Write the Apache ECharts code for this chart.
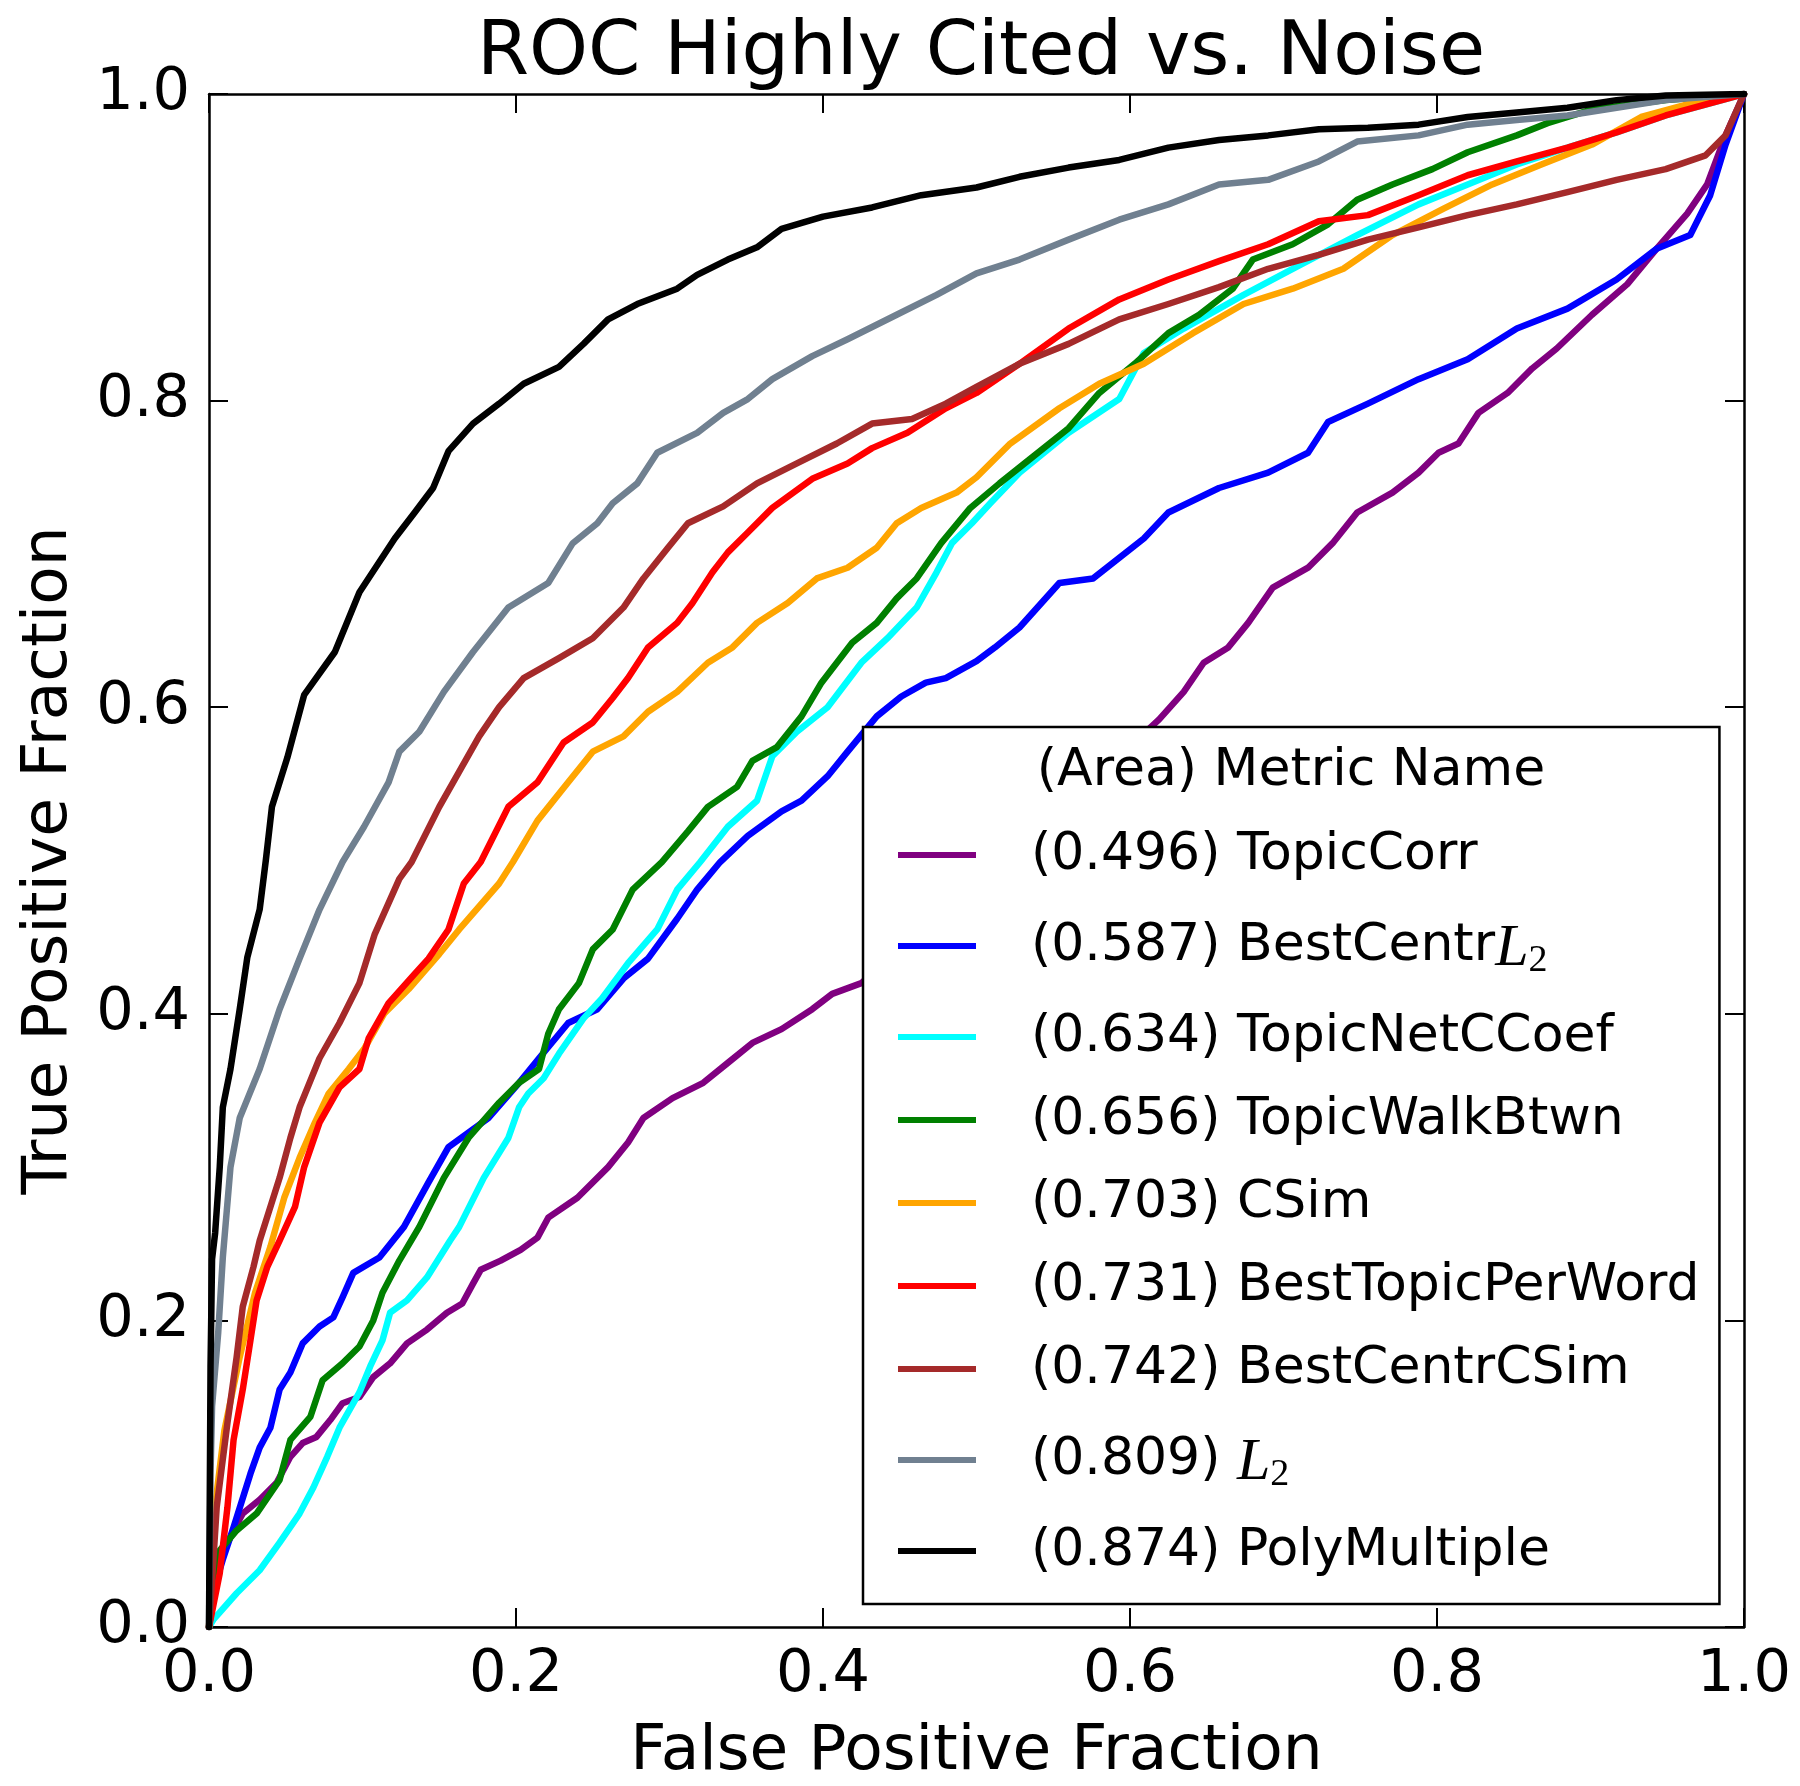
<!DOCTYPE html>
<html>
<head>
<meta charset="utf-8">
<title>ROC Highly Cited vs. Noise</title>
<script src="https://cdn.jsdelivr.net/npm/echarts@6/dist/echarts.min.js"></script>
<style>
  html, body { margin: 0; padding: 0; background: #fff; }
  #chart { width: 1800px; height: 1786px; }
</style>
</head>
<body>
<div id="chart"></div>
<script>
// ROC points: [false positive fraction, true positive fraction]
const topicCorr = [[0,0],[0.007,0.044],[0.016,0.063],[0.022,0.074],[0.033,0.083],[0.044,0.094],[0.053,0.111],[0.061,0.120],[0.070,0.124],[0.079,0.135],[0.087,0.146],[0.098,0.150],[0.107,0.163],[0.118,0.172],[0.129,0.185],[0.142,0.194],[0.155,0.205],[0.165,0.211],[0.172,0.224],[0.177,0.233],[0.190,0.239],[0.203,0.246],[0.214,0.254],[0.221,0.267],[0.240,0.280],[0.260,0.300],[0.273,0.316],[0.283,0.332],[0.302,0.345],[0.322,0.355],[0.338,0.368],[0.354,0.381],[0.373,0.390],[0.393,0.403],[0.406,0.413],[0.425,0.420],[0.480,0.470],[0.540,0.520],[0.590,0.565],[0.619,0.592],[0.635,0.610],[0.648,0.629],[0.664,0.639],[0.677,0.655],[0.693,0.678],[0.716,0.691],[0.732,0.707],[0.748,0.727],[0.771,0.740],[0.788,0.753],[0.801,0.766],[0.814,0.772],[0.827,0.792],[0.846,0.805],[0.862,0.821],[0.878,0.834],[0.901,0.856],[0.924,0.876],[0.943,0.899],[0.963,0.922],[0.976,0.941],[0.988,0.973],[1,1]];

const bestCentrL2 = [[0,0],[0.003,0.024],[0.009,0.044],[0.016,0.065],[0.027,0.100],[0.033,0.117],[0.040,0.130],[0.046,0.155],[0.053,0.166],[0.061,0.185],[0.072,0.196],[0.081,0.202],[0.087,0.215],[0.094,0.231],[0.111,0.241],[0.127,0.261],[0.143,0.290],[0.156,0.313],[0.182,0.332],[0.202,0.355],[0.215,0.371],[0.234,0.394],[0.253,0.403],[0.270,0.423],[0.286,0.436],[0.305,0.462],[0.318,0.481],[0.333,0.499],[0.351,0.516],[0.373,0.532],[0.386,0.539],[0.403,0.555],[0.416,0.571],[0.435,0.594],[0.451,0.607],[0.467,0.616],[0.480,0.619],[0.500,0.630],[0.512,0.639],[0.528,0.652],[0.554,0.681],[0.576,0.684],[0.609,0.710],[0.625,0.727],[0.658,0.743],[0.690,0.753],[0.716,0.766],[0.729,0.786],[0.755,0.798],[0.788,0.814],[0.820,0.827],[0.852,0.847],[0.885,0.860],[0.917,0.879],[0.943,0.899],[0.965,0.908],[0.978,0.934],[0.988,0.967],[1,1]];

const topicNetCCoef = [[0,0],[0.003,0.005],[0.018,0.022],[0.033,0.037],[0.046,0.055],[0.059,0.074],[0.068,0.091],[0.077,0.111],[0.085,0.130],[0.098,0.153],[0.105,0.170],[0.113,0.187],[0.118,0.205],[0.129,0.213],[0.142,0.228],[0.157,0.252],[0.163,0.261],[0.179,0.293],[0.195,0.319],[0.202,0.339],[0.208,0.348],[0.218,0.358],[0.228,0.374],[0.244,0.397],[0.256,0.410],[0.273,0.433],[0.292,0.455],[0.305,0.481],[0.320,0.499],[0.338,0.522],[0.357,0.539],[0.367,0.568],[0.383,0.584],[0.403,0.600],[0.425,0.629],[0.442,0.645],[0.461,0.665],[0.474,0.688],[0.484,0.707],[0.497,0.720],[0.509,0.733],[0.528,0.753],[0.560,0.779],[0.593,0.801],[0.609,0.831],[0.635,0.847],[0.674,0.869],[0.706,0.886],[0.748,0.908],[0.788,0.928],[0.820,0.941],[0.852,0.954],[0.885,0.965],[0.917,0.975],[0.949,0.986],[1,1]];

const topicWalkBtwn = [[0,0],[0.007,0.050],[0.018,0.063],[0.031,0.074],[0.046,0.096],[0.053,0.122],[0.066,0.137],[0.074,0.161],[0.087,0.172],[0.098,0.183],[0.107,0.200],[0.113,0.218],[0.124,0.239],[0.137,0.261],[0.153,0.293],[0.169,0.319],[0.189,0.342],[0.202,0.355],[0.215,0.364],[0.221,0.387],[0.228,0.403],[0.241,0.420],[0.250,0.442],[0.263,0.455],[0.276,0.481],[0.295,0.499],[0.312,0.519],[0.325,0.535],[0.344,0.548],[0.354,0.565],[0.370,0.574],[0.386,0.594],[0.399,0.616],[0.419,0.642],[0.435,0.655],[0.448,0.671],[0.461,0.684],[0.477,0.707],[0.496,0.730],[0.515,0.746],[0.535,0.762],[0.560,0.782],[0.580,0.805],[0.603,0.824],[0.625,0.844],[0.645,0.856],[0.667,0.873],[0.680,0.892],[0.706,0.902],[0.729,0.915],[0.748,0.931],[0.771,0.941],[0.797,0.951],[0.820,0.962],[0.852,0.973],[0.872,0.981],[0.901,0.990],[0.949,0.996],[1,1]];

const cSim = [[0,0],[0.004,0.079],[0.010,0.128],[0.020,0.176],[0.030,0.218],[0.040,0.248],[0.049,0.280],[0.059,0.306],[0.069,0.329],[0.078,0.348],[0.091,0.364],[0.101,0.377],[0.114,0.400],[0.130,0.416],[0.150,0.439],[0.163,0.455],[0.189,0.485],[0.198,0.499],[0.214,0.526],[0.234,0.551],[0.250,0.571],[0.270,0.581],[0.286,0.597],[0.305,0.610],[0.325,0.629],[0.341,0.639],[0.357,0.655],[0.377,0.668],[0.396,0.684],[0.416,0.691],[0.435,0.704],[0.448,0.720],[0.464,0.730],[0.487,0.740],[0.500,0.750],[0.522,0.772],[0.554,0.795],[0.580,0.811],[0.609,0.824],[0.641,0.844],[0.674,0.863],[0.706,0.873],[0.739,0.886],[0.771,0.908],[0.804,0.925],[0.836,0.941],[0.868,0.954],[0.901,0.967],[0.933,0.985],[0.966,0.994],[1,1]];

const bestTopicPerWord = [[0,0],[0.007,0.035],[0.012,0.078],[0.016,0.122],[0.022,0.155],[0.027,0.187],[0.031,0.213],[0.038,0.235],[0.046,0.252],[0.056,0.274],[0.062,0.300],[0.072,0.329],[0.085,0.352],[0.098,0.364],[0.104,0.384],[0.117,0.407],[0.134,0.426],[0.143,0.436],[0.156,0.455],[0.166,0.485],[0.177,0.499],[0.195,0.535],[0.214,0.551],[0.231,0.577],[0.250,0.590],[0.263,0.606],[0.273,0.619],[0.286,0.639],[0.305,0.655],[0.315,0.668],[0.328,0.688],[0.338,0.701],[0.351,0.714],[0.367,0.730],[0.393,0.749],[0.416,0.759],[0.432,0.769],[0.455,0.779],[0.480,0.795],[0.500,0.805],[0.528,0.824],[0.560,0.847],[0.593,0.866],[0.625,0.879],[0.658,0.891],[0.690,0.902],[0.723,0.917],[0.755,0.921],[0.788,0.934],[0.820,0.947],[0.852,0.956],[0.885,0.965],[0.917,0.975],[0.949,0.986],[1,1]];

const bestCentrCSim = [[0,0],[0.003,0.046],[0.005,0.078],[0.012,0.133],[0.018,0.176],[0.022,0.209],[0.029,0.235],[0.033,0.252],[0.046,0.293],[0.053,0.319],[0.059,0.339],[0.072,0.371],[0.085,0.394],[0.098,0.420],[0.108,0.452],[0.124,0.488],[0.132,0.499],[0.150,0.535],[0.163,0.558],[0.176,0.581],[0.189,0.600],[0.205,0.619],[0.228,0.632],[0.250,0.645],[0.270,0.665],[0.283,0.684],[0.299,0.704],[0.312,0.720],[0.335,0.731],[0.357,0.746],[0.383,0.759],[0.409,0.772],[0.432,0.785],[0.458,0.788],[0.480,0.798],[0.500,0.809],[0.528,0.824],[0.560,0.837],[0.593,0.853],[0.625,0.863],[0.658,0.874],[0.690,0.886],[0.723,0.895],[0.755,0.905],[0.788,0.913],[0.820,0.921],[0.852,0.928],[0.885,0.936],[0.917,0.944],[0.949,0.951],[0.975,0.960],[0.988,0.973],[1,1]];

const l2 = [[0,0],[0.001,0.100],[0.002,0.144],[0.006,0.192],[0.009,0.241],[0.014,0.300],[0.020,0.332],[0.033,0.364],[0.046,0.403],[0.059,0.436],[0.072,0.468],[0.087,0.499],[0.101,0.522],[0.117,0.551],[0.124,0.571],[0.137,0.584],[0.153,0.610],[0.172,0.636],[0.195,0.665],[0.221,0.681],[0.237,0.707],[0.253,0.720],[0.263,0.733],[0.279,0.746],[0.292,0.766],[0.318,0.779],[0.335,0.792],[0.351,0.801],[0.367,0.814],[0.393,0.829],[0.416,0.840],[0.448,0.856],[0.474,0.869],[0.500,0.883],[0.528,0.892],[0.560,0.905],[0.593,0.918],[0.625,0.928],[0.658,0.941],[0.690,0.944],[0.723,0.956],[0.748,0.969],[0.788,0.973],[0.820,0.980],[0.852,0.983],[0.885,0.986],[0.917,0.991],[0.949,0.996],[1,1]];

const polyMultiple = [[0,0],[0.001,0.170],[0.002,0.240],[0.004,0.257],[0.007,0.300],[0.009,0.339],[0.014,0.364],[0.020,0.403],[0.025,0.437],[0.033,0.468],[0.037,0.500],[0.041,0.535],[0.051,0.567],[0.062,0.608],[0.082,0.636],[0.098,0.675],[0.121,0.710],[0.134,0.727],[0.146,0.743],[0.156,0.767],[0.172,0.785],[0.189,0.798],[0.205,0.811],[0.228,0.822],[0.244,0.837],[0.260,0.853],[0.279,0.863],[0.305,0.873],[0.318,0.882],[0.338,0.892],[0.357,0.900],[0.373,0.912],[0.400,0.920],[0.432,0.926],[0.464,0.934],[0.500,0.939],[0.528,0.946],[0.560,0.952],[0.593,0.957],[0.625,0.965],[0.658,0.970],[0.690,0.973],[0.723,0.977],[0.755,0.978],[0.788,0.980],[0.820,0.985],[0.852,0.988],[0.885,0.991],[0.917,0.996],[0.949,0.999],[1,1]];

const curves = [topicCorr, bestCentrL2, topicNetCCoef, topicWalkBtwn, cSim, bestTopicPerWord, bestCentrCSim, l2, polyMultiple];
const names = ['(0.496) TopicCorr', '(0.587) BestCentrL2', '(0.634) TopicNetCCoef', '(0.656) TopicWalkBtwn',
  '(0.703) CSim', '(0.731) BestTopicPerWord', '(0.742) BestCentrCSim', '(0.809) L2', '(0.874) PolyMultiple'];
const colors = ['#800080', '#0000ff', '#00ffff', '#008000', '#ffa500', '#ff0000', '#a52a2a', '#708090', '#000000'];
const tickLabels = ['0.0', '0.2', '0.4', '0.6', '0.8', '1.0'];

const FONT = 'DejaVu Sans';

// "L2" at the end of a name is drawn like matplotlib's $L_2$
function legendLabel(name) {
  if (name.endsWith('L2')) {
    return '{t|' + name.slice(0, -2) + '}{m|L}{s|2}';
  }
  return '{t|' + name + '}';
}

function axis(pos, withLabels, name, nameGap) {
  return {
    type: 'value', position: pos, min: 0, max: 1, interval: 0.2,
    name: withLabels ? name : '',
    nameLocation: 'middle', nameGap: nameGap,
    nameTextStyle: { fontFamily: FONT, fontSize: 63, color: '#000' },
    axisLine: { show: true, onZero: false, lineStyle: { color: '#000', width: 2.5 } },
    axisTick: { show: true, inside: true, length: 19, lineStyle: { color: '#000', width: 2 } },
    splitLine: { show: false },
    axisLabel: {
      show: withLabels, margin: 19, fontFamily: FONT, fontSize: 59, color: '#000',
      formatter: v => tickLabels[Math.round(v / 0.2)]
    }
  };
}

const chart = echarts.init(document.getElementById('chart'), null, { renderer: 'canvas' });

chart.setOption({
  animation: false,
  backgroundColor: '#fff',
  title: {
    text: 'ROC Highly Cited vs. Noise',
    left: 976, top: 12, textAlign: 'center',
    textStyle: { fontFamily: FONT, fontSize: 75, fontWeight: 'normal', color: '#000' }
  },
  grid: { left: 209, top: 94, width: 1535, height: 1533, containLabel: false, outerBoundsMode: 'none' },
  xAxis: [axis('bottom', true, 'False Positive Fraction', 94), axis('top', false)],
  yAxis: [axis('left', true, 'True Positive Fraction', 128), axis('right', false)],
  legend: {
    orient: 'vertical',
    left: 863, top: 727,
    padding: [100, 20, 25, 35],
    itemWidth: 78, itemHeight: 6, itemGap: 27,
    icon: 'rect',
    selectedMode: false,
    backgroundColor: '#fff', borderColor: '#000', borderWidth: 2.5, borderRadius: 0,
    formatter: legendLabel,
    textStyle: {
      fontFamily: FONT, fontSize: 52, color: '#000', lineHeight: 56, padding: [0, 0, 0, 50],
      rich: {
        t: { fontFamily: FONT, fontSize: 52, color: '#000', verticalAlign: 'middle' },
        m: { fontFamily: 'Liberation Serif', fontStyle: 'italic', fontSize: 60, color: '#000', lineHeight: 72, padding: [6, 0, 0, 0], verticalAlign: 'middle' },
        s: { fontFamily: 'Liberation Serif', fontSize: 38, color: '#000', lineHeight: 40, padding: [30, 0, 0, 0], verticalAlign: 'middle' }
      }
    },
    data: names
  },
  graphic: [{
    type: 'text', x: 1291, y: 771, z: 100,
    style: { text: '(Area) Metric Name', fontFamily: FONT, fontSize: 52, fill: '#000', align: 'center', verticalAlign: 'middle' }
  }],
  series: curves.map((c, i) => ({
    name: names[i],
    type: 'line',
    data: c,
    showSymbol: false,
    symbol: 'none',
    silent: true,
    clip: true,
    color: colors[i],
    lineStyle: { color: colors[i], width: 6.5, cap: 'round', join: 'round' },
    itemStyle: { color: colors[i] },
    emphasis: { disabled: true }
  }))
});
</script>
</body>
</html>
